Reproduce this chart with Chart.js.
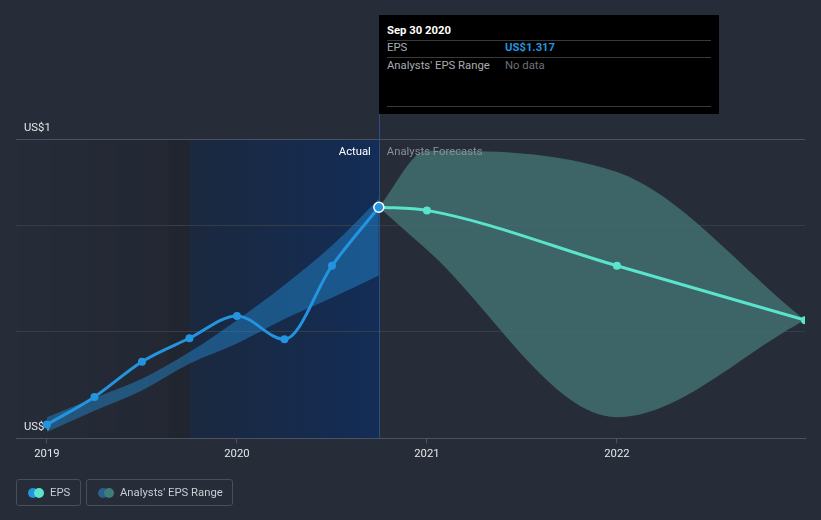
<!DOCTYPE html>
<html>
<head>
<meta charset="utf-8">
<script src="https://cdn.jsdelivr.net/npm/chart.js@4.4.0/dist/chart.umd.min.js"></script>
<style>
    body { margin: 0; background: #262c38; font-family: Roboto, "Noto Sans", sans-serif; }
    #wrap { position: relative; width: 821px; height: 520px; overflow: hidden; }
    #chart { position: absolute; left: 0; top: 0; }
    .tip { position: absolute; left: 379px; top: 15px; width: 340px; height: 99px; background: #000; font-size: 11.3px; }
    .tip div { position: absolute; white-space: nowrap; line-height: 14px; }
    .tip .rule { left: 8px; width: 324px; height: 1px; background: #3a3a3a; }
    .legend { position: absolute; top: 479px; height: 25px; border: 1px solid #474e5c; border-radius: 3px;
              color: #c9cdd3; font-size: 11.3px; line-height: 25px; box-sizing: content-box; }
    .legend .dot { position: absolute; top: 8px; width: 10px; height: 10px; border-radius: 50%; }
    .legend span.lbl { position: absolute; white-space: nowrap; }
</style>
</head>
<body>
<div id="wrap">
    <canvas id="chart" width="821" height="520"></canvas>
    <div class="tip">
        <div style="left:8px;top:9px;color:#fff;font-weight:bold;">Sep 30 2020</div>
        <div class="rule" style="top:25px;"></div>
        <div style="left:8px;top:26px;color:#a9adb3;">EPS</div>
        <div style="left:126px;top:26px;color:#2394df;font-weight:bold;">US$1.317</div>
        <div class="rule" style="top:42px;"></div>
        <div style="left:8px;top:44px;color:#a9adb3;">Analysts' EPS Range</div>
        <div style="left:126px;top:44px;color:#6c7077;">No data</div>
        <div class="rule" style="top:91px;"></div>
    </div>
    <div class="legend" style="left:16px;width:63px;">
        <span class="dot" style="left:11px;background:#2394df;"></span>
        <span class="dot" style="left:17px;background:#5ae4cc;"></span>
        <span class="lbl" style="left:33px;">EPS</span>
    </div>
    <div class="legend" style="left:86px;width:145px;">
        <span class="dot" style="left:11px;background:#2a5f8f;"></span>
        <span class="dot" style="left:17px;background:#3f7c7c;"></span>
        <span class="lbl" style="left:33px;">Analysts' EPS Range</span>
    </div>
</div>
<script>
// actual EPS (decimal years)
var actualYears = [2019, 2019.25, 2019.5, 2019.75, 2020, 2020.25, 2020.5, 2020.747];
var actualEps = [1.113, 1.139, 1.172, 1.194, 1.215, 1.193, 1.262, 1.317];
var actualRangeHigh = [1.120, 1.138, 1.156, 1.181, 1.211, 1.244, 1.281, 1.325];
var actualRangeLow = [1.106, 1.126, 1.145, 1.170, 1.189, 1.212, 1.232, 1.253];

// analysts forecasts
var forecastYears = [2020.747, 2021, 2022, 2022.99];
var forecastEps = [1.317, 1.314, 1.262, 1.211];
var forecastHigh = [1.317, 1.370, 1.350, 1.211];
var forecastLow = [1.317, 1.277, 1.120, 1.211];

// axes
var yearTicks = [2019, 2020, 2021, 2022];
var epsTicks = [1.1, 1.2, 1.3, 1.381];
var epsTickLabels = ['US$1', '', '', 'US$1'];
var xMin = 2018.837;
var xMax = 2022.99;
var lastReported = 2020.747;
var pastStart = 2019.75;

var blue = '#2394df';
var teal = '#5ae4cc';
var fontSize = 11.3;

/**
 * Zip x and y arrays into point objects.
 * @param {Array} xs
 * @param {Array} ys
 * @return {Array}
 */
function pts(xs, ys) {
    return xs.map(function(x, i) {
        return {x: x, y: ys[i]};
    });
}

var lastIdx = actualEps.length - 1;

// shaded "past" region behind the grid
var shadePlugin = {
    id: 'shade',
    beforeDraw: function(chart) {
        var ctx = chart.ctx;
        var area = chart.chartArea;
        var xs = chart.scales.x;
        var x0 = xs.getPixelForValue(pastStart);
        var x1 = xs.getPixelForValue(lastReported);
        ctx.save();
        var g1 = ctx.createLinearGradient(area.left, 0, x0, 0);
        g1.addColorStop(0, 'rgba(0,0,0,0)');
        g1.addColorStop(0.87, 'rgba(0,0,0,0.08)');
        g1.addColorStop(0.88, 'rgba(0,0,0,0.13)');
        g1.addColorStop(1, 'rgba(0,0,0,0.16)');
        ctx.fillStyle = g1;
        ctx.fillRect(area.left, area.top, x0 - area.left, area.bottom - area.top);
        var g2 = ctx.createLinearGradient(x0, 0, x1, 0);
        g2.addColorStop(0, '#1b283e');
        g2.addColorStop(1, '#132d56');
        ctx.fillStyle = g2;
        ctx.fillRect(x0, area.top, x1 - x0, area.bottom - area.top);
        ctx.restore();
    },
    beforeDatasetsDraw: function(chart) {
        var ctx = chart.ctx;
        var area = chart.chartArea;
        var x1 = Math.round(chart.scales.x.getPixelForValue(lastReported)) + 0.5;
        ctx.save();
        ctx.strokeStyle = '#2c4f80';
        ctx.lineWidth = 1;
        ctx.beginPath();
        ctx.moveTo(x1, area.top - 30);
        ctx.lineTo(x1, area.bottom);
        ctx.stroke();
        ctx.restore();
    },
    afterDatasetsDraw: function(chart) {
        var ctx = chart.ctx;
        var area = chart.chartArea;
        var x1 = chart.scales.x.getPixelForValue(lastReported);
        ctx.save();
        ctx.font = fontSize + 'px Roboto';
        ctx.textBaseline = 'middle';
        ctx.textAlign = 'right';
        ctx.fillStyle = '#ffffff';
        ctx.fillText('Actual', x1 - 8, area.top + 13);
        ctx.textAlign = 'left';
        ctx.fillStyle = '#8b9098';
        ctx.fillText('Analysts Forecasts', x1 + 8, area.top + 13);
        ctx.restore();
    }
};

var chart = new Chart(document.getElementById('chart'), {
    type: 'line',
    data: {
        datasets: [{
            label: 'EPS',
            data: pts(actualYears, actualEps),
            borderColor: blue,
            borderWidth: 3,
            cubicInterpolationMode: 'monotone',
            pointRadius: actualEps.map(function(v, i) { return i === lastIdx ? 5 : 4; }),
            pointBackgroundColor: blue,
            pointBorderColor: actualEps.map(function(v, i) { return i === lastIdx ? '#ffffff' : blue; }),
            pointBorderWidth: actualEps.map(function(v, i) { return i === lastIdx ? 1.5 : 0; }),
            fill: false,
            order: 0
        }, {
            label: 'EPS forecast',
            data: pts(forecastYears, forecastEps),
            borderColor: teal,
            borderWidth: 3,
            cubicInterpolationMode: 'monotone',
            pointRadius: [0, 4, 4, 4],
            pointBackgroundColor: teal,
            pointBorderWidth: 0,
            fill: false,
            order: 1
        }, {
            label: 'range high',
            data: pts(actualYears, actualRangeHigh),
            borderWidth: 0,
            pointRadius: 0,
            cubicInterpolationMode: 'monotone',
            backgroundColor: 'rgba(35,148,223,0.42)',
            fill: '+1',
            order: 2
        }, {
            label: 'range low',
            data: pts(actualYears, actualRangeLow),
            borderWidth: 0,
            pointRadius: 0,
            cubicInterpolationMode: 'monotone',
            fill: false,
            order: 3
        }, {
            label: 'forecast high',
            data: pts(forecastYears, forecastHigh),
            borderWidth: 0,
            pointRadius: 0,
            cubicInterpolationMode: 'monotone',
            backgroundColor: 'rgba(67,114,114,0.82)',
            fill: '+1',
            order: 4
        }, {
            label: 'forecast low',
            data: pts(forecastYears, forecastLow),
            borderWidth: 0,
            pointRadius: 0,
            cubicInterpolationMode: 'monotone',
            fill: false,
            order: 5
        }]
    },
    options: {
        responsive: false,
        animation: false,
        events: [],
        layout: {padding: {left: 16, right: 16, top: 139, bottom: 55}},
        plugins: {
            legend: {display: false},
            tooltip: {enabled: false}
        },
        scales: {
            x: {
                type: 'linear',
                min: xMin,
                max: xMax,
                afterBuildTicks: function(scale) {
                    scale.ticks = yearTicks.map(function(v) { return {value: v}; });
                },
                grid: {drawOnChartArea: false, drawTicks: true, tickLength: 5, color: '#4b5263'},
                border: {display: true, color: '#4b5263'},
                ticks: {
                    color: '#e4e6ea',
                    font: {family: 'Roboto', size: fontSize},
                    padding: 4,
                    maxRotation: 0,
                    callback: function(v) { return String(v); }
                }
            },
            y: {
                min: epsTicks[0],
                max: epsTicks[epsTicks.length - 1],
                afterBuildTicks: function(scale) {
                    scale.ticks = epsTicks.map(function(v) { return {value: v}; });
                },
                afterFit: function(scale) {
                    scale.width = 0;
                },
                grid: {
                    drawTicks: false,
                    color: function(c) { return c.index === epsTicks.length - 1 ? '#4b5263' : '#363d4a'; }
                },
                border: {display: false},
                ticks: {
                    mirror: true,
                    padding: 8,
                    labelOffset: -11,
                    color: '#e4e6ea',
                    font: {family: 'Roboto', size: fontSize},
                    callback: function(v, i) { return epsTickLabels[i]; }
                }
            }
        }
    },
    plugins: [shadePlugin]
});
</script>
</body>
</html>
